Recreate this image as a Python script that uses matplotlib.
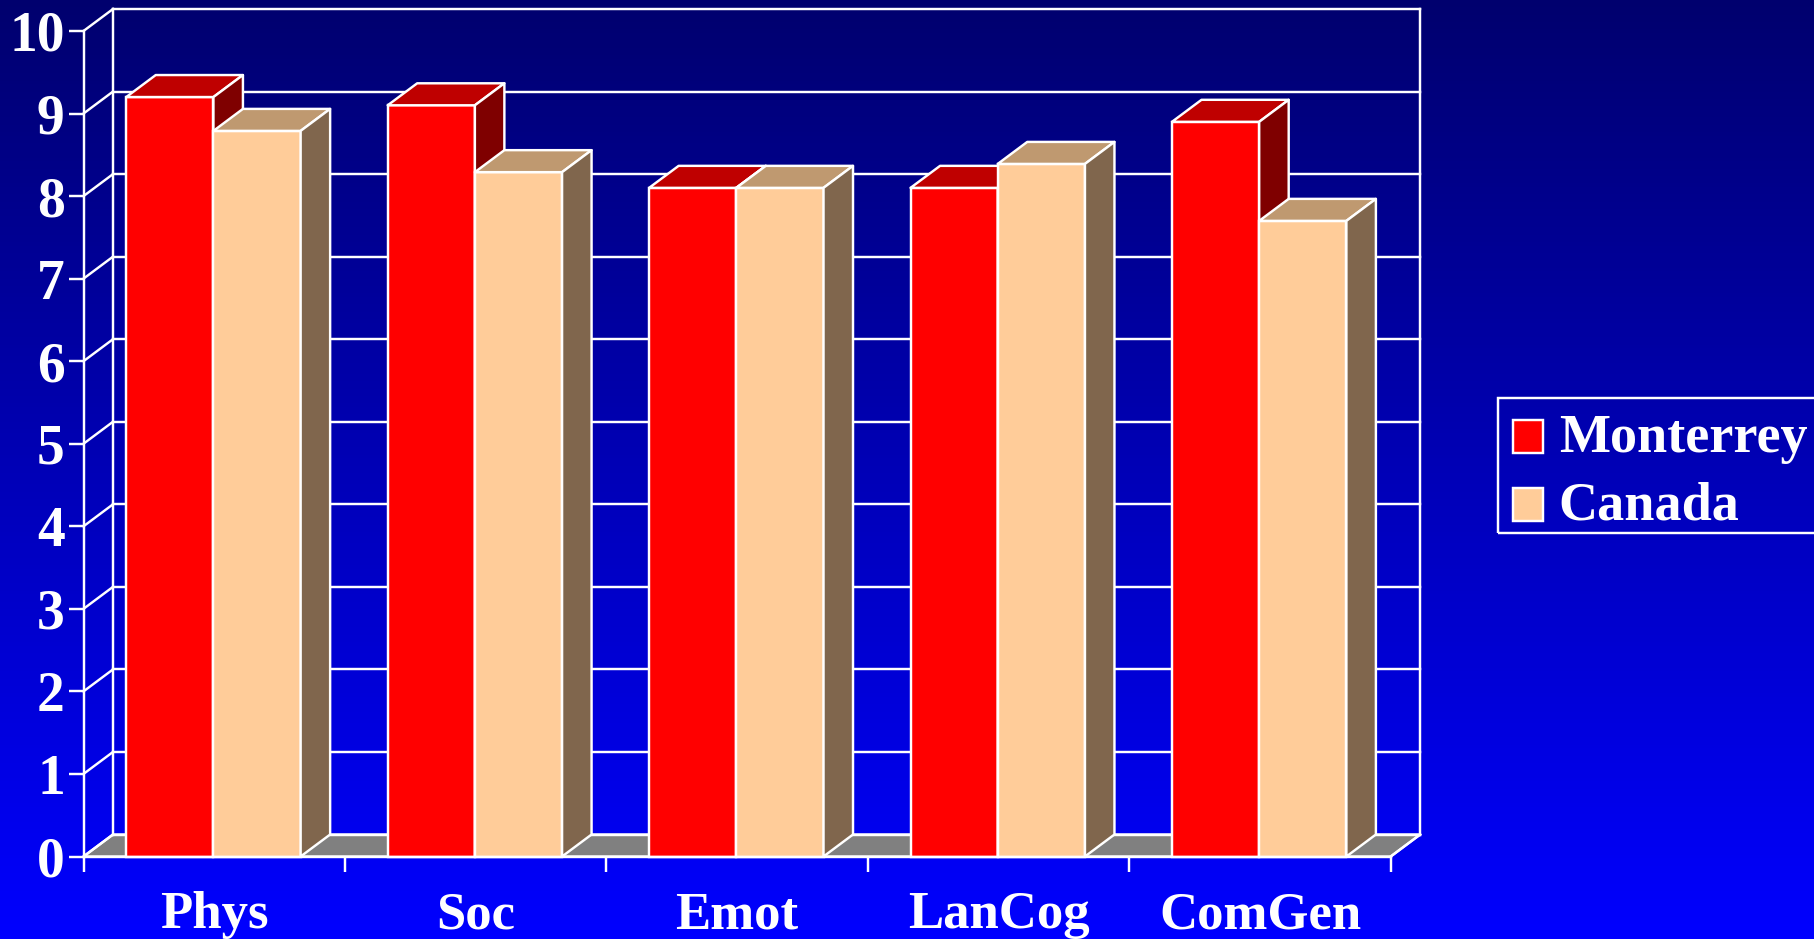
import numpy as np
import matplotlib
matplotlib.use("Agg")
import matplotlib.pyplot as plt
from matplotlib.patches import Polygon, Patch, Rectangle

categories = ["Phys", "Soc", "Emot", "LanCog", "ComGen"]
monterrey = [9.2, 9.1, 8.1, 8.1, 8.9]
canada = [8.79, 8.29, 8.1, 8.39, 7.7]
series_names = ["Monterrey", "Canada"]
y_ticks = list(range(0, 11))

W, H = 1814, 939
FS = 38
FS_Y = 40
FS_LEG = 39
LW = 1.75
WHITE = "#ffffff"
plt.rcParams["font.family"] = ["Liberation Serif", "DejaVu Serif"]
plt.rcParams["font.weight"] = "bold"

fig = plt.figure(figsize=(W / 100, H / 100), dpi=100)

# gradient background
bg = fig.add_axes([0, 0, 1, 1], zorder=0)
grad = np.zeros((256, 1, 3))
grad[:, 0, 2] = np.linspace(110 / 255, 1.0, 256)
bg.imshow(grad, aspect="auto", extent=[0, 1, 0, 1], origin="upper")
bg.axis("off")

# plot axes = front plane of the 3D box
x0, x1, y0, y1 = 83.5, 1390.7, 856.5, 31.0
ax = fig.add_axes([x0 / W, 1 - y0 / H, (x1 - x0) / W, (y0 - y1) / H], zorder=1)
ax.patch.set_alpha(0)
ax.set_xlim(0, 5)
ax.set_ylim(0, 10)
px_x = (x1 - x0) / 5
px_y = (y0 - y1) / 10

# depth of wall and of bars, in data units
wall_dx, wall_dy = 29.5 / px_x, 22.0 / px_y
bar_dx, bar_dy = 29.5 / px_x, 22.0 / px_y
bar_w = 87.2 / px_x


def poly(pts, fc, z, lw=LW):
    ax.add_patch(Polygon(pts, closed=True, facecolor=fc, edgecolor=WHITE,
                         linewidth=lw, zorder=z, clip_on=False, joinstyle="round"))


# floor
poly([(0, 0), (5, 0), (5 + wall_dx, wall_dy), (wall_dx, wall_dy)], "#808080", 1)

# back wall and left wall lines
for v in y_ticks:
    ax.plot([wall_dx, 5 + wall_dx], [v + wall_dy, v + wall_dy], color=WHITE, lw=LW,
            clip_on=False, zorder=2, solid_capstyle="projecting")
    ax.plot([0, wall_dx], [v, v + wall_dy], color=WHITE, lw=LW, clip_on=False, zorder=2)
for xx in (wall_dx, 5 + wall_dx):
    ax.plot([xx, xx], [wall_dy, 10 + wall_dy], color=WHITE, lw=LW, clip_on=False, zorder=2)
ax.plot([5, 5 + wall_dx], [0, wall_dy], color=WHITE, lw=LW, clip_on=False, zorder=2)

# bars
palette = [("#ff0000", "#bf0000", "#7f0000"), ("#ffcc99", "#bf9970", "#80664d")]
z = 3
for i in range(len(categories)):
    for j, vals in enumerate((monterrey, canada)):
        v = vals[i]
        left = i + 0.497 - bar_w + j * bar_w
        right = left + bar_w
        front, top, side = palette[j]
        ax.bar(left, v, width=bar_w, align="edge", color=front, edgecolor=WHITE,
               linewidth=LW, zorder=z, clip_on=False)
        poly([(left, v), (right, v), (right + bar_dx, v + bar_dy), (left + bar_dx, v + bar_dy)], top, z)
        poly([(right, 0), (right, v), (right + bar_dx, v + bar_dy), (right + bar_dx, bar_dy)], side, z)
        z += 1

# axes, ticks, labels
for s in ("top", "right"):
    ax.spines[s].set_visible(False)
for s in ("left", "bottom"):
    ax.spines[s].set_color(WHITE)
    ax.spines[s].set_linewidth(LW)
    ax.spines[s].set_zorder(30)
ax.set_yticks(y_ticks)
ax.set_yticklabels([str(v) for v in y_ticks], fontsize=FS_Y, fontweight="bold", color=WHITE)
ax.tick_params(axis="y", length=10.5, width=LW, color=WHITE, pad=3)
ax.set_xticks(range(6))
ax.set_xticklabels([])
ax.tick_params(axis="x", which="major", length=10.5, width=LW, color=WHITE)
ax.set_xticks([i + 0.5 for i in range(5)], minor=True)
ax.set_xticklabels(categories, minor=True, fontsize=FS, fontweight="bold", color=WHITE)
ax.tick_params(axis="x", which="minor", length=0, pad=25)

# legend: frame drawn separately so its padding can match
fig.add_artist(Rectangle((1498 / W, 1 - 533 / H), (W + 20 - 1498) / W, 135 / H,
                         transform=fig.transFigure, facecolor="none", edgecolor=WHITE,
                         linewidth=LW, zorder=35, clip_on=True))
handles = [Patch(facecolor=palette[k][0], edgecolor=WHITE, linewidth=LW) for k in range(2)]
leg = fig.legend(handles, series_names, loc="upper left",
                 bbox_to_anchor=(1513 / W, 1 - 418 / H), bbox_transform=fig.transFigure,
                 fontsize=FS_LEG, labelcolor=WHITE, frameon=False,
                 handlelength=0.555, handleheight=0.555, handletextpad=0.29,
                 borderpad=0, labelspacing=0.33, borderaxespad=0)
leg.set_zorder(40)
for t in leg.get_texts():
    t.set_y(4)

fig.savefig("out.png", dpi=100)
